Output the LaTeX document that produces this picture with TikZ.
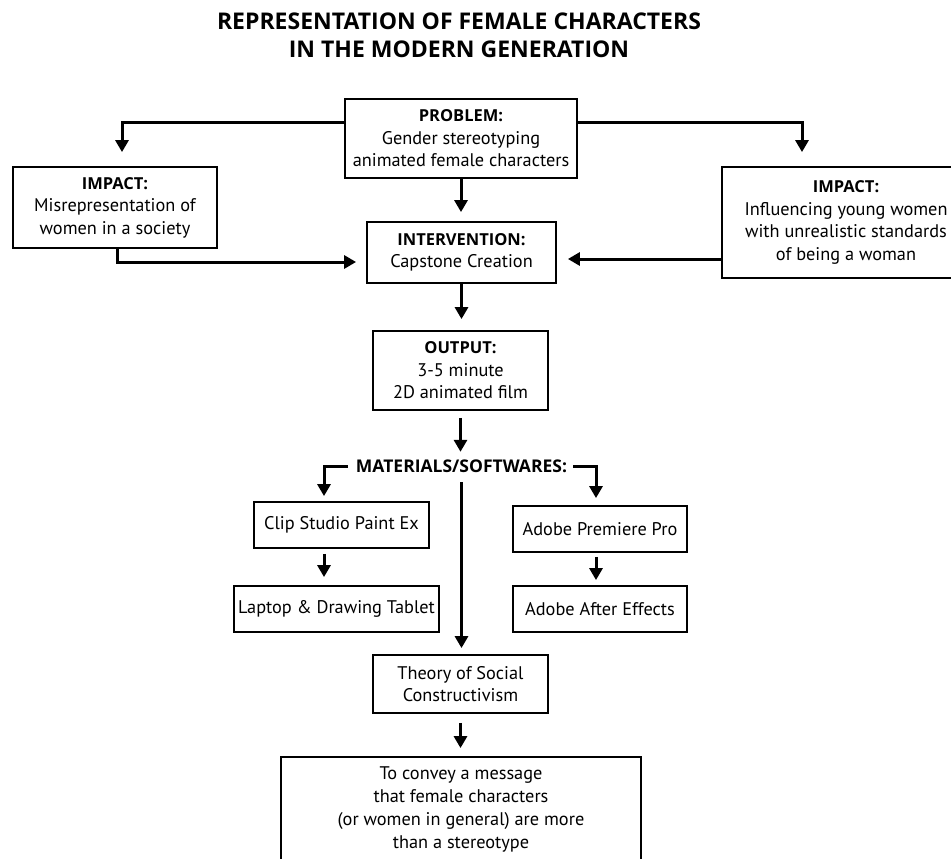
\documentclass[tikz,border=0pt]{standalone}
\usepackage{fontspec}
\setmainfont{PT Sans}
\newfontfamily\hdfont{Open Sans}
\usetikzlibrary{arrows.meta}
\newcommand{\hd}[1]{{\hdfont\bfseries\fontsize{16.5}{22}\selectfont #1}}
\begin{document}
\begin{tikzpicture}[x=1pt,y=-1pt,
  box/.style={draw=black, line width=1.8pt, inner sep=0pt, align=center,
    font=\fontsize{18.3}{22.5}\selectfont},
  arr/.style={line width=3pt, -{Triangle[length=12pt,width=13pt]}}]
\useasboundingbox (0,0) rectangle (951,859);
\clip (0,0) rectangle (951,859);
\fill[white] (0,0) rectangle (951,859);

\node[font=\hdfont\bfseries\fontsize{23}{28}\selectfont, align=center] (title) at (459,35)
  {REPRESENTATION OF FEMALE CHARACTERS\\IN THE MODERN GENERATION};

\node[box, minimum width=232pt, minimum height=79pt] (prob) at (461,138.5)
  {\hd{PROBLEM:}\\Gender stereotyping\\animated female characters};
\node[box, minimum width=204pt, minimum height=81pt] (impL) at (115,207.5)
  {\hd{IMPACT:}\\Misrepresentation of\\women in a society};
\node[box, minimum width=189pt, minimum height=61pt] (int) at (461.5,252.5)
  {\hd{INTERVENTION:}\\Capstone Creation};
\node[box, minimum width=248pt, minimum height=111pt] (impR) at (846,222.5)
  {\hd{IMPACT:}\\Influencing young women\\with unrealistic standards\\of being a woman};
\node[inner sep=0pt, minimum height=20pt, font=\hdfont\bfseries\fontsize{17.5}{22}\selectfont] (mat) at (461.5,466)
  {MATERIALS/SOFTWARES:};
\node[box, minimum width=175pt, minimum height=79pt] (out) at (460.5,370.5)
  {\hd{OUTPUT:}\\3-5 minute\\2D animated film};
\node[box, minimum width=175pt, minimum height=46pt] (clip) at (341.5,525)
  {Clip Studio Paint Ex};
\node[box, minimum width=205pt, minimum height=46pt] (lap) at (336.5,609)
  {Laptop \& Drawing Tablet};
\node[box, minimum width=174pt, minimum height=46pt] (prem) at (600,529)
  {Adobe Premiere Pro};
\node[box, minimum width=174pt, minimum height=46pt] (aft) at (600,609)
  {Adobe After Effects};
\node[box, minimum width=175pt, minimum height=58pt] (theory) at (460.5,684)
  {Theory of Social\\Constructivism};
\node[box, minimum width=360pt, minimum height=104pt, font=\fontsize{18.3}{23}\selectfont] (goal) at (461,809)
  {To convey a message\\that female characters\\(or women in general) are more\\than a stereotype};

% connectors
\draw[arr, shorten >=14pt] ([yshift=16.5pt]prob.west) -| ([xshift=7pt]impL.north);
\draw[arr, shorten >=14pt] ([yshift=16.5pt]prob.east) -| ([xshift=-44pt]impR.north);
\draw[arr, shorten >=9pt] (prob.south) -- (prob.south |- int.north);
\draw[arr, shorten >=10pt] ([xshift=2pt]impL.south) |- ([yshift=-9.5pt]int.west);
\draw[arr, shorten >=11pt] ([yshift=-36.5pt]impR.west) coordinate (r1) -- (r1 -| int.east);
\draw[arr, shorten >=11pt] (int.south) -- (int.south |- out.north);
\draw[arr, shorten <=7pt, shorten >=4pt] (out.south) -- (out.south |- mat.north);
\draw[arr, shorten <=8pt, shorten >=5pt] (mat.west) -| ([xshift=-17.5pt]clip.north);
\draw[arr, shorten <=6pt, shorten >=7pt] (mat.east) -| ([xshift=-4pt]prem.north);
\draw[arr, shorten <=6pt, shorten >=6pt] (mat.south) -- (mat.south |- theory.north);
\draw[arr, shorten <=5pt, shorten >=8pt] ([xshift=-17.5pt]clip.south) -- ([xshift=-17.5pt]clip.south |- lap.north);
\draw[arr, shorten <=4pt, shorten >=5pt] ([xshift=-4pt]prem.south) -- ([xshift=-4pt]prem.south |- aft.north);
\draw[arr, shorten <=9pt, shorten >=8pt] (theory.south) -- (theory.south |- goal.north);
\end{tikzpicture}
\end{document}
